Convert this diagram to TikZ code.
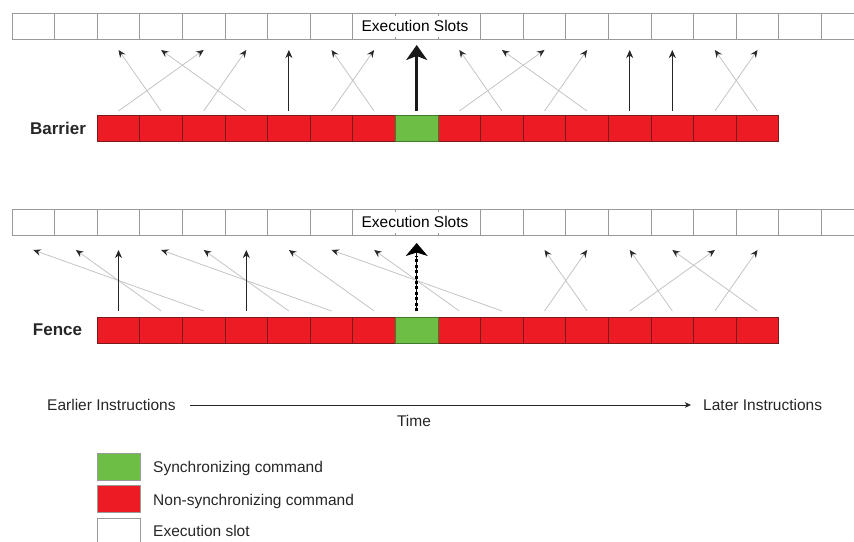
\documentclass[tikz,border=0pt]{standalone}
\usepackage{fontspec}
\setmainfont{Liberation Sans}
\usetikzlibrary{arrows.meta,calc}
\definecolor{cred}{HTML}{ED1C24}
\definecolor{cgreen}{HTML}{6CBE45}
\definecolor{slotline}{HTML}{9A9A9A}
\definecolor{redline}{HTML}{7A1A1A}
\definecolor{greenline}{HTML}{3E7A2A}
\definecolor{thinline}{HTML}{C4C4C4}
\definecolor{headcol}{HTML}{2A2A2A}
\begin{document}
\begin{tikzpicture}[x=1pt,y=-1pt,
  font=\fontsize{15.5}{18}\selectfont,
  cellbase/.style={minimum width=42.6pt, minimum height=26pt, inner sep=0pt, outer sep=0pt},
  slot/.style={cellbase, draw=slotline, line width=0.9pt, fill=white},
  redcell/.style={cellbase, draw=redline, line width=0.8pt, fill=cred},
  greencell/.style={cellbase, draw=greenline, line width=0.8pt, fill=cgreen},
  slotlabel/.style={fill=white, inner sep=2pt, minimum height=21pt},
  rowlabel/.style={font=\fontsize{17}{20}\selectfont\bfseries, text=black!85},
  grayarr/.style={draw=thinline, line width=0.8pt, -{Stealth[length=7.5pt,width=6.5pt,inset=2.5pt,color=headcol]}},
  blackarr/.style={draw=black!85, line width=1pt, -{Stealth[length=8pt,width=7pt,inset=2.5pt]}},
  thickarr/.style={draw=black!90, line width=3.5pt, -{Stealth[length=15pt,width=21pt,inset=4pt]}},
  dotarr/.style={draw=black, line width=0.9pt, -{Stealth[length=13pt,width=22pt,inset=3.5pt]},
     postaction={draw, -, line width=3.2pt, dash pattern=on 3pt off 2.4pt, shorten >=13pt}},
  legbox/.style={minimum width=43pt, minimum height=27pt, inner sep=0pt, draw=slotline, line width=0.9pt},
  legtext/.style={anchor=base west, inner sep=0pt, text=black!85},
  axtext/.style={anchor=base west, inner sep=0pt, text=black!85}
]
\useasboundingbox (0,0) rectangle (854,541);

% ---------------- Barrier row ----------------
\foreach \k in {0,...,19}
  \node[slot] (bs\k) at ({12+42.6*(\k+0.5)},26) {};
\node[slotlabel] (bslab) at (415,26) {Execution Slots};
\foreach \i in {0,1,2,3,4,5,6,8,9,10,11,12,13,14,15}
  \node[redcell] (b\i) at ({12+42.6*(\i+2.5)},128) {};
\node[greencell] (b7) at ({12+42.6*9.5},128) {};
\node[rowlabel] (blab) at (58,128) {Barrier};

\foreach \c/\s in {1/2,3/3,0/4,2/5,6/7,5/8,9/10,11/11,8/12,10/13,15/16,14/17}
  \draw[grayarr] ($(b\c.north)+(0pt,4pt)$) -- ($(bs\s.south)+(0pt,-11pt)$);
\foreach \c/\s in {4/6,12/14,13/15}
  \draw[blackarr] ($(b\c.north)+(0pt,4pt)$) -- ($(bs\s.south)+(0pt,-11pt)$);
\draw[thickarr] ($(b7.north)+(0pt,4pt)$) -- ($(bs9.south)+(0pt,-6pt)$);

% ---------------- Fence row ----------------
\foreach \k in {0,...,19}
  \node[slot] (fs\k) at ({12+42.6*(\k+0.5)},222) {};
\node[slotlabel] (fslab) at (415,222) {Execution Slots};
\foreach \i in {0,1,2,3,4,5,6,8,9,10,11,12,13,14,15}
  \node[redcell] (f\i) at ({12+42.6*(\i+2.5)},330) {};
\node[greencell] (f7) at ({12+42.6*9.5},330) {};
\node[rowlabel] (flab) at (57.5,330) {Fence};

\foreach \c/\s in {2/0,1/1,5/3,4/4,6/6,9/7,8/8,11/12,10/13,13/14,15/15,12/16,14/17}
  \draw[grayarr] ($(f\c.north)+(0pt,6pt)$) -- ($(fs\s.south)+(0pt,-15pt)$);
\foreach \c/\s in {0/2,3/5}
  \draw[blackarr] ($(f\c.north)+(0pt,6pt)$) -- ($(fs\s.south)+(0pt,-15pt)$);
\draw[dotarr] ($(f7.north)+(0pt,6pt)$) -- ($(fs9.south)+(0pt,-8pt)$);

% ---------------- Time axis ----------------
\node[axtext] (early) at (47,410.5) {Earlier Instructions};
\node[axtext] (late) at (703,410.5) {Later Instructions};
\coordinate (tstart) at (190,405);
\coordinate (tend) at (691,405);
\draw[black!85, line width=0.8pt, -{Stealth[length=6pt,width=5.5pt,inset=1.5pt]}] (tstart) -- (tend);
\node[anchor=base, inner sep=0pt, text=black!85] (time) at (414,426.5) {Time};

% ---------------- Legend ----------------
\node[legbox, fill=cgreen] (lg) at (118.5,466.5) {};
\node[legbox, fill=cred] (lr) at (118.5,498.5) {};
\node[legbox, fill=white] (lw) at (118.5,531.5) {};
\node[legtext] (lgt) at (153,472.5) {Synchronizing command};
\node[legtext] (lrt) at (153,505.5) {Non-synchronizing command};
\node[legtext] (lwt) at (153,536.5) {Execution slot};
\end{tikzpicture}
\end{document}
